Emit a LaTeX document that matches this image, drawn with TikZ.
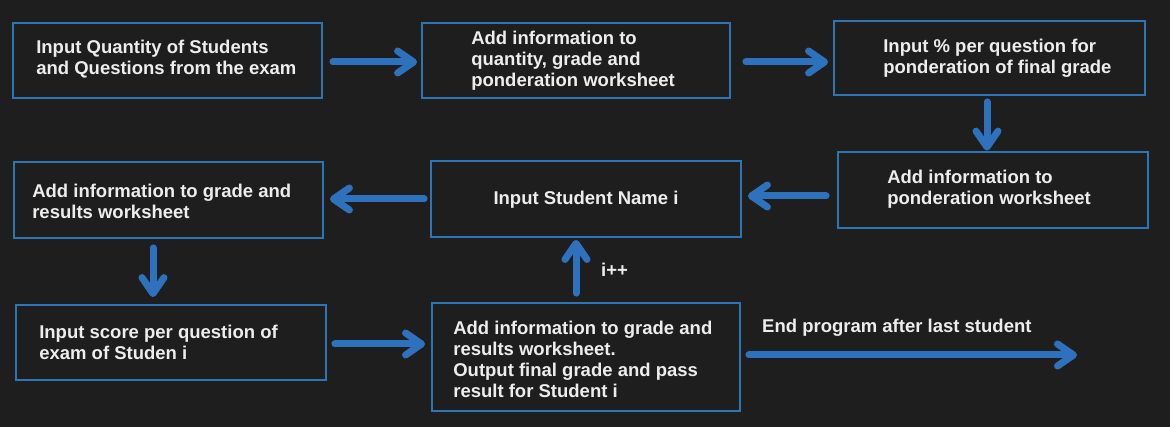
\documentclass[tikz,border=0pt]{standalone}
\usepackage{fontspec}
\setmainfont{Liberation Sans}
\usetikzlibrary{arrows.meta}
\definecolor{bg}{HTML}{1E1E1E}
\definecolor{boxblue}{HTML}{2E75B6}
\definecolor{arrblue}{HTML}{2E72BE}
\definecolor{txt}{HTML}{EDEDED}
\begin{document}
\begin{tikzpicture}[x=1pt,y=-1pt,
  box/.style={draw=boxblue, line width=1.8pt, inner sep=0pt},
  lbl/.style={text=txt, align=left, font=\bfseries\fontsize{18.5}{21}\selectfont, inner sep=0pt},
  arr/.style={draw=arrblue, line width=7pt, line cap=round,
    -{Straight Barb[round, length=16pt, width=22pt]}}]
\fill[bg] (0,0) rectangle (1170,427);
\useasboundingbox (0,0) rectangle (1170,427);

\node[box, minimum width=309pt, minimum height=75pt] (b1) at (167.5,60.5) {};
\node[box, minimum width=308pt, minimum height=75pt] (b2) at (576,60.5) {};
\node[box, minimum width=311pt, minimum height=74pt] (b3) at (989.5,58) {};
\node[box, minimum width=310pt, minimum height=76pt] (b4) at (993,190) {};
\node[box, minimum width=310pt, minimum height=76pt] (b5) at (586,199) {};
\node[box, minimum width=309pt, minimum height=76pt] (b6) at (168.5,200) {};
\node[box, minimum width=310pt, minimum height=75pt] (b7) at (171,342.5) {};
\node[box, minimum width=308pt, minimum height=108pt] (b8) at (586,357) {};

\node[lbl, anchor=west] (t1) at ([xshift=24pt,yshift=1.5pt]b1.west)
  {Input Quantity of Students\\and Questions from the exam};
\node[lbl, anchor=west] (t2) at ([xshift=50pt]b2.west)
  {Add information to\\quantity, grade and\\ponderation worksheet};
\node[lbl, anchor=west] (t3) at ([xshift=50pt]b3.west)
  {Input \% per question for\\ponderation of final grade};
\node[lbl, anchor=west] (t4) at ([xshift=50pt,yshift=1pt]b4.west)
  {Add information to\\ponderation worksheet};
\node[lbl] (t5) at ([yshift=-1pt]b5.center) {Input Student Name i};
\node[lbl, anchor=west] (t6) at ([xshift=19pt,yshift=-1pt]b6.west)
  {Add information to grade and\\results worksheet};
\node[lbl, anchor=west] (t7) at ([xshift=24pt]b7.west)
  {Input score per question of\\exam of Studen i};
\node[lbl, anchor=west] (t8) at ([xshift=22pt,yshift=-2pt]b8.west)
  {Add information to grade and\\results worksheet.\\Output final grade and pass\\result for Student i};

\node[lbl, anchor=west] (inc) at (601,270) {i++};
\node[lbl, anchor=west] (endlbl) at (762,328) {End program after last student};
\coordinate (endpt) at (1077,355);

\draw[arr, shorten <=10pt, shorten >=4pt] ([yshift=-1.5pt]b1.east) -- ([yshift=-1.5pt]b2.west);
\draw[arr, shorten <=15pt, shorten >=5pt] ([yshift=-1.5pt]b2.east) -- ([yshift=-1.5pt]b2.east -| b3.west);
\draw[arr, shorten <=6pt, shorten >=0.5pt] ([xshift=-2.5pt]b3.south) -- ([xshift=-2.5pt]b3.south |- b4.north);
\draw[arr, shorten <=11pt, shorten >=6pt] ([yshift=-6pt]b4.west) -- ([yshift=-6pt]b4.west -| b5.east);
\draw[arr, shorten <=6pt, shorten >=6pt] (b5.west) -- (b5.west -| b6.east);
\draw[arr, shorten <=9pt, shorten >=7pt] ([xshift=-15.5pt]b6.south) -- ([xshift=-15.5pt]b6.south |- b7.north);
\draw[arr, shorten <=8pt, shorten >=6pt] ([yshift=-1.5pt]b7.east) -- ([yshift=-1.5pt]b7.east -| b8.west);
\draw[arr, shorten <=9pt, shorten >=2pt] ([xshift=-10pt]b8.north) -- ([xshift=-10pt]b5.south);
\draw[arr, shorten <=8pt] ([yshift=2pt]b8.east) -- (endpt);
\end{tikzpicture}
\end{document}
